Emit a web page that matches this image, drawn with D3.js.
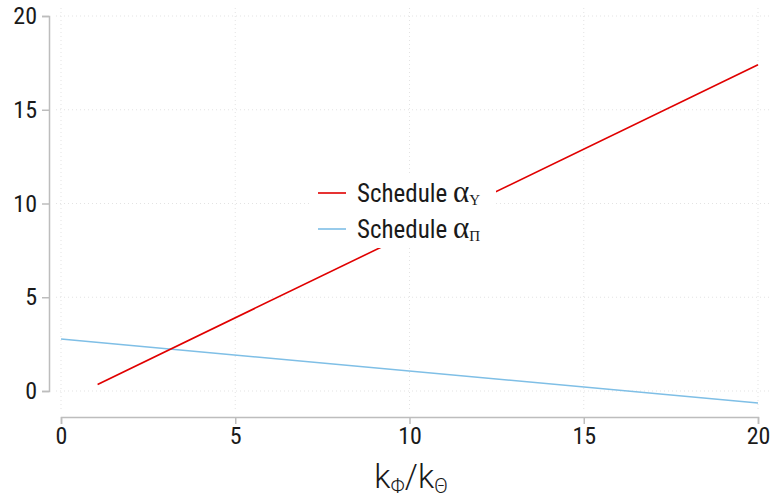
<!DOCTYPE html>
<html><head><meta charset="utf-8">
<script src="https://cdn.jsdelivr.net/npm/d3@7"></script>
<style>
body{margin:0;background:#fff;}
svg{display:block;font-family:"Roboto Condensed","Liberation Sans Narrow","Roboto",sans-serif;font-weight:400;}
</style></head><body>
<svg id="c" width="774" height="500"></svg>
<script>
const xTicks = [0, 5, 10, 15, 20];
const yTicks = [0, 5, 10, 15, 20];
const seriesNames = ["Υ", "Π"];
const redX = [1.05, 20];
const redY = [0.35, 17.4];
const blueX = [0, 20];
const blueY = [2.77, -0.64];

const svg = d3.select("#c");
const x = d3.scaleLinear().domain([0, 20]).range([61, 758]);
const y = d3.scaleLinear().domain([0, 20]).range([391, 16]);

const grid = svg.append("g");
yTicks.forEach(t => grid.append("line").attr("x1", 56).attr("x2", 770)
  .attr("y1", y(t)).attr("y2", y(t)).attr("stroke", "#e3e3e3").attr("stroke-width", 1)
  .attr("stroke-dasharray", "1,3"));
xTicks.forEach(t => grid.append("line").attr("x1", x(t)).attr("x2", x(t))
  .attr("y1", 8).attr("y2", 410).attr("stroke", "#e3e3e3").attr("stroke-width", 1)
  .attr("stroke-dasharray", "1,3"));

const yAxis = svg.append("g").attr("transform", "translate(49,0)")
  .call(d3.axisLeft(y).tickValues(yTicks).tickSize(7).tickPadding(5));
const xAxis = svg.append("g").attr("transform", "translate(0,417)")
  .call(d3.axisBottom(x).tickValues(xTicks).tickSize(7).tickPadding(3));
[yAxis, xAxis].forEach(a => {
  a.select(".domain").attr("stroke", "#bdbdbd").attr("stroke-width", 1.5);
  a.selectAll(".tick line").attr("stroke", "#bdbdbd").attr("stroke-width", 1.5);
  a.selectAll("text").attr("fill", "#1a1a1a").style("font-size", "24px")
    .style("font-family", '"Roboto Condensed","Liberation Sans Narrow","Roboto",sans-serif')
    .style("font-weight", 400);
});

const line = d3.line().x(d => x(d[0])).y(d => y(d[1]));
svg.append("path").datum(blueX.map((v, i) => [v, blueY[i]]))
  .attr("d", line).attr("fill", "none").attr("stroke", "#7fbfe6").attr("stroke-width", 1.6);
svg.append("path").datum(redX.map((v, i) => [v, redY[i]]))
  .attr("d", line).attr("fill", "none").attr("stroke", "#e00000").attr("stroke-width", 1.6);

// legend
const lg = svg.append("g");
lg.append("rect").attr("x", 310).attr("y", 176).attr("width", 186).attr("height", 72).attr("fill", "#fff");
const colors = ["#e00000", "#7fbfe6"];
seriesNames.forEach((s, i) => {
  const yy = 193 + i * 36;
  lg.append("line").attr("x1", 318).attr("x2", 346).attr("y1", yy).attr("y2", yy)
    .attr("stroke", colors[i]).attr("stroke-width", 1.6);
  const t = lg.append("text").attr("x", 357).attr("y", yy + 9).attr("fill", "#1a1a1a").style("font-size", "25px");
  t.append("tspan").text("Schedule ");
  t.append("tspan").style("font-family", '"Liberation Serif","DejaVu Serif",serif')
    .style("font-size", "31px").text("α");
  t.append("tspan").style("font-family", '"Liberation Serif","DejaVu Serif",serif')
    .style("font-size", "15px").attr("dy", 3).text(s);
});

// x title
const xt = svg.append("text").attr("x", 411).attr("y", 488).attr("text-anchor", "middle")
  .attr("fill", "#1a1a1a").style("font-size", "33px")
  .style("font-family", '"Roboto","Noto Sans",sans-serif').style("font-weight", 300);
xt.append("tspan").text("k");
xt.append("tspan").style("font-size", "20px").attr("dy", 5).text("Φ");
xt.append("tspan").attr("dy", -5).text("/k");
xt.append("tspan").style("font-size", "20px").attr("dy", 5).text("Θ");
</script>
</body></html>
